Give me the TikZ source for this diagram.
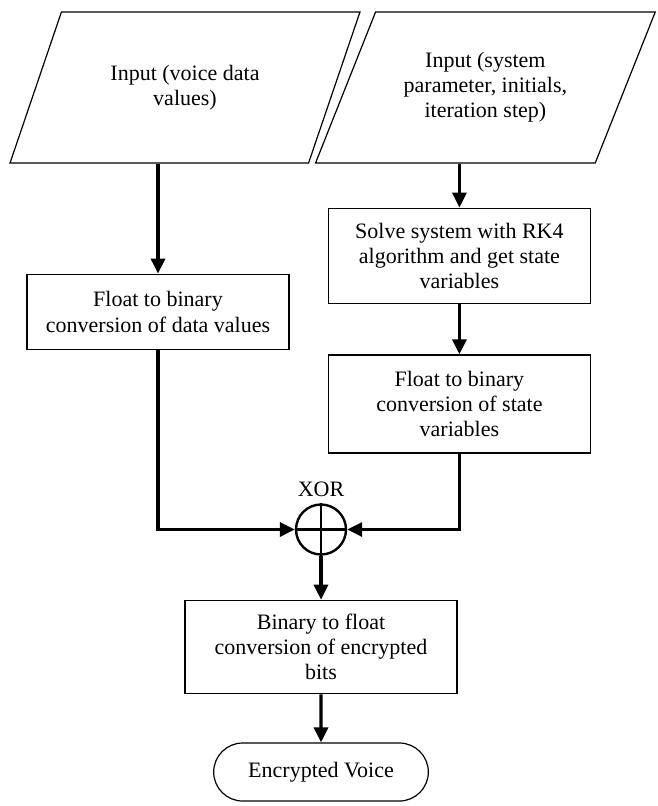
\documentclass[tikz,border=0pt]{standalone}
\usepackage{fontspec}
\setmainfont{Liberation Serif}
\usetikzlibrary{shapes.geometric, shapes.misc, arrows.meta, positioning}
\tikzset{
    txt/.style={font=\fontsize{11pt}{12.6pt}\selectfont},
    io/.style={trapezium, trapezium left angle=60, trapezium right angle=120, trapezium stretches=true, draw=black, line width=0.6pt, minimum width=175pt, minimum height=75.5pt, text centered, align=center, txt},
    process/.style={rectangle, draw=black, line width=0.85pt, minimum width=131pt, minimum height=37.5pt, text centered, align=center, txt},
    startstop/.style={rounded rectangle, draw=black, line width=0.6pt, minimum width=114pt, minimum height=29pt, text centered, txt},
    xornode/.style={circle, draw=black, line width=1.2pt, minimum size=25pt, inner sep=0pt},
    arrow/.style={line width=1.6pt, -{Triangle[length=7.5pt, width=7pt]}}
}

\begin{document}
\begin{tikzpicture}
    \useasboundingbox (0,0) rectangle (328.5pt,-403pt);
    % Inputs
    \node (in_voice) [io] at (92.5pt,-43.75pt) {Input (voice data\\values)};
    \node (in_system) [io, minimum width=170pt, right=5pt of in_voice] {Input (system\\parameter, initials,\\iteration step)};
    % Left branch
    \node (conv_data) [process, below=55pt of in_voice, xshift=-13.5pt] {Float to binary\\conversion of data values};
    % Right branch
    \node (solve_rk4) [process, minimum height=47.5pt, below=22pt of in_system, xshift=-13pt] {Solve system with RK4\\algorithm and get state\\variables};
    \node (conv_state) [process, minimum height=49pt, below=25pt of solve_rk4] {Float to binary\\conversion of state\\variables};
    % XOR and output
    \node (xor) [xornode, below=76.5pt of conv_data, xshift=81.5pt] {};
    \node (xor_label) [txt, above=0pt of xor] {XOR};
    \node (conv_bits) [process, minimum width=136pt, minimum height=46.5pt, below=22pt of xor] {Binary to float\\conversion of encrypted\\bits};
    \node (out_voice) [startstop, below=24pt of conv_bits] {Encrypted Voice};
    \draw [line width=1.2pt] (xor.north) -- (xor.south) (xor.west) -- (xor.east);
    % Arrows
    \draw [arrow] (in_voice.south -| conv_data.north) -- (conv_data.north);
    \draw [arrow] (in_system.south -| solve_rk4.north) -- (solve_rk4.north);
    \draw [arrow] (solve_rk4) -- (conv_state);
    \draw [arrow] (conv_data.south) |- (xor.west);
    \draw [arrow] (conv_state.south) |- (xor.east);
    \draw [arrow] (xor) -- (conv_bits);
    \draw [arrow] (conv_bits) -- (out_voice);
\end{tikzpicture}
\end{document}
